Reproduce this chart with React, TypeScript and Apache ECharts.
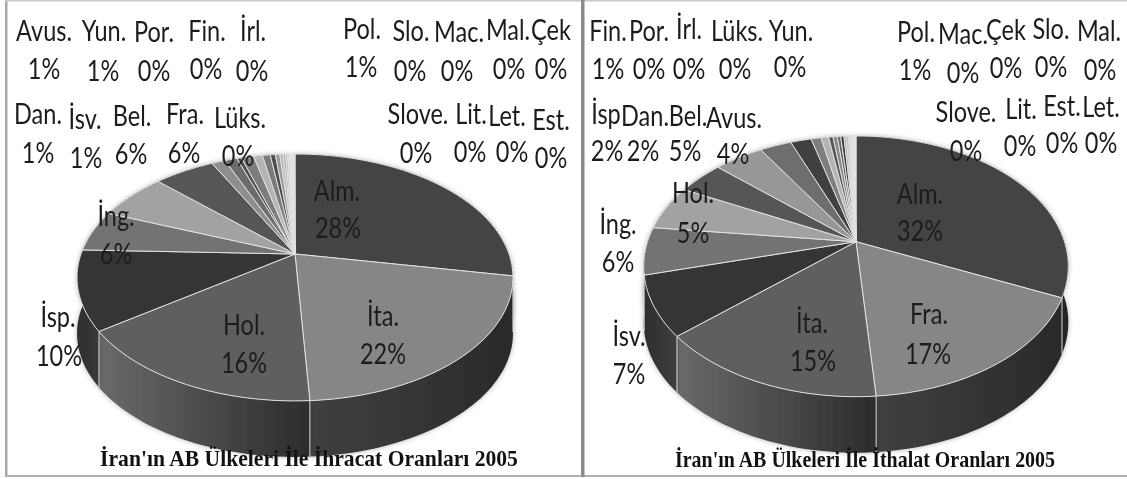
import React, { useEffect, useRef } from "react";
import * as echarts from "echarts";

// ---- data ----
const exportNames = ["Alm.", "İta.", "Hol.", "İsp.", "İng.", "Fra.", "Bel.", "İsv.", "Dan.", "Lüks.", "Avus.", "Yun.", "Pol.", "Por.", "Fin.", "İrl.", "Slo.", "Mac.", "Mal.", "Çek", "Slove.", "Lit.", "Let.", "Est."];
const exportValues = [27.9, 21.3, 16.1, 10.4, 5.4, 6.2, 5.4, 1.2, 1.1, 0.4, 1.1, 0.8, 0.7, 0.45, 0.4, 0.3, 0.2, 0.2, 0.15, 0.15, 0.1, 0.1, 0.1, 0.05];
const exportPercents = ["28%", "22%", "16%", "10%", "6%", "6%", "6%", "1%", "1%", "0%", "1%", "1%", "1%", "0%", "0%", "0%", "0%", "0%", "0%", "0%", "0%", "0%", "0%", "0%"];
const importNames = ["Alm.", "Fra.", "İta.", "İsv.", "İng.", "Hol.", "Bel.", "Avus.", "İsp", "Dan.", "Fin.", "Pol.", "Por.", "İrl.", "Lüks.", "Yun.", "Mac.", "Çek", "Slo.", "Mal.", "Slove.", "Lit.", "Est.", "Let."];
const importValues = [31.8, 17, 14.8, 7.4, 5.9, 5.6, 4.2, 4.5, 2.9, 1.9, 0.9, 0.7, 0.4, 0.4, 0.3, 0.3, 0.2, 0.2, 0.15, 0.15, 0.1, 0.1, 0.1, 0.1];
const importPercents = ["32%", "17%", "15%", "7%", "6%", "5%", "5%", "4%", "2%", "2%", "1%", "1%", "0%", "0%", "0%", "0%", "0%", "0%", "0%", "0%", "0%", "0%", "0%", "0%"];
const exportTitle = "İran'ın AB Ülkeleri İle İhracat Oranları 2005";
const importTitle = "İran'ın AB Ülkeleri İle İthalat Oranları 2005";

// ---- styles and layout ----
const exportColors = ["#444444", "#868686", "#5f5f5f", "#353535", "#737373", "#a2a2a2", "#565656", "#8e8e8e", "#6c6c6c", "#4a4a4a", "#7d7d7d", "#b4b4b4", "#7a7a7a", "#4d4d4d", "#999999", "#bbbbbb", "#aaaaaa", "#c4c4c4", "#d4d4d4", "#e2e2e2", "#e9e9e9", "#f0f0f0", "#eaeaea", "#f4f4f4"];
const importColors = ["#444444", "#868686", "#5f5f5f", "#353535", "#737373", "#a2a2a2", "#565656", "#979797", "#6e6e6e", "#404040", "#7e7e7e", "#b4b4b4", "#555555", "#8a8a8a", "#666666", "#3d3d3d", "#aaaaaa", "#bbbbbb", "#cccccc", "#dddddd", "#e5e5e5", "#eeeeee", "#e6e6e6", "#f2f2f2"];
const exportWalls = [["#2e2e2e", "#2e2e2e"], ["#2a2a2a", "#404040"], ["#6a6a6a", "#2c2c2c"], ["#2e2e2e", "#3a3a3a"]];
const importWalls = [["#262626", "#262626"], ["#2a2a2a", "#404040"], ["#6a6a6a", "#2c2c2c"], ["#2e2e2e", "#3e3e3e"]];
const exportGeom = { cx: 295, cy: 254, A: 119, B: 214, k: 0.19, h: 56 };
const importGeom = { cx: 856, cy: 241.7, A: 125.7, B: 208.5, k: 0.189, h: 56 };
// [nameX, nameY, percentX, percentY]
const exportLabelPos: Record<string, number[]> = {
  "Avus.": [44, 30, 44, 68], "Yun.": [104, 30, 103, 70], "Por.": [154, 31, 154, 70], "Fin.": [207, 30, 206, 68], "İrl.": [253, 30, 252, 70],
  "Pol.": [362, 28, 361, 66], "Slo.": [411, 30, 410, 70], "Mac.": [459, 31, 457, 70], "Mal.": [508, 29, 509, 68], "Çek": [551, 29, 551, 68],
  "Dan.": [38, 113, 38, 152], "İsv.": [85, 118, 86, 157], "Bel.": [132, 115, 131, 153], "Fra.": [185, 113, 184, 152], "Lüks.": [240, 117, 238, 155],
  "Slove.": [418, 113, 416, 152], "Lit.": [471, 113, 470, 151], "Let.": [507, 115, 512, 151], "Est.": [551, 119, 551, 157],
  "Alm.": [337, 190, 338, 227], "İng.": [116, 215, 116, 253], "İsp.": [58, 316, 59, 355], "Hol.": [244, 324, 244, 362], "İta.": [383, 315, 383, 353],
};
const importLabelPos: Record<string, number[]> = {
  "Fin.": [608, 30, 608, 68], "Por.": [649, 30, 649, 68], "İrl.": [689, 28, 689, 68], "Lüks.": [737, 30, 735, 68], "Yun.": [791, 30, 790, 66],
  "Pol.": [916, 31, 915, 69], "Mac.": [963, 33, 963, 72], "Çek": [1006, 29, 1006, 67], "Slo.": [1051, 28, 1051, 66], "Mal.": [1099, 30, 1100, 69],
  "İsp": [606, 113, 607, 150], "Dan.": [645, 115, 643, 150], "Bel.": [688, 115, 685, 150], "Avus.": [734, 117, 733, 153],
  "Slove.": [966, 111, 966, 150], "Lit.": [1021, 108, 1020, 145], "Est.": [1062, 105, 1062, 142], "Let.": [1101, 106, 1101, 142],
  "Alm.": [920, 193, 920, 230], "Hol.": [693, 192, 693, 232], "İng.": [618, 223, 618, 261], "İsv.": [629, 335, 629, 373], "İta.": [812, 322, 813, 360], "Fra.": [929, 313, 928, 353],
};
const LABEL_FONT = 'Lato, "Noto Sans", sans-serif';

type Geom = typeof exportGeom;
function project(g: Geom, frac: number, drop = 0): number[] {
  const t = 2 * Math.PI * frac;
  const u = Math.sin(t);
  const v = -Math.cos(t);
  const f = 1 - g.k * v;
  return [g.cx + (g.B * u) / f, g.cy + (g.A * v) / f + drop];
}
function arcPoints(g: Geom, a: number, b: number, drop = 0): number[][] {
  const n = Math.max(2, Math.ceil((b - a) * 200));
  const pts: number[][] = [];
  for (let i = 0; i <= n; i++) pts.push(project(g, a + ((b - a) * i) / n, drop));
  return pts;
}
function spans(values: number[]): number[][] {
  const total = values.reduce((s, x) => s + x, 0);
  let acc = 0;
  return values.map((x, i) => {
    const s = acc / total;
    acc += x;
    return [s, acc / total, i];
  });
}

function pieSeries(values: number[], colors: string[], walls: string[][], g: Geom) {
  const data = spans(values);
  return [
    {
      type: "custom",
      coordinateSystem: "none",
      silent: true,
      z: 2,
      data,
      renderItem: (_p: any, api: any) => {
        const a = api.value(0), b = api.value(1), i = api.value(2);
        const w = walls[i] || ["#333333", "#333333"];
        const top = arcPoints(g, a, b);
        const bottom = arcPoints(g, a, b, g.h).reverse();
        const s0 = project(g, a);
        const children: any[] = [
          {
            type: "polygon",
            shape: { points: top.concat(bottom) },
            style: {
              fill: new echarts.graphic.LinearGradient(0, 0, 1, 0, [
                { offset: 0, color: b < 0.5 ? w[1] : w[0] },
                { offset: 1, color: b < 0.5 ? w[0] : w[1] },
              ]),
              shadowBlur: 5,
              shadowColor: "rgba(0,0,0,0.3)",
            },
          },
        ];
        if (-Math.cos(2 * Math.PI * a) > -0.05 && i > 0) {
          children.push({
            type: "line",
            shape: { x1: s0[0], y1: s0[1], x2: s0[0], y2: s0[1] + g.h },
            style: { stroke: "#d8d8d8", lineWidth: 1 },
          });
        }
        return { type: "group", children };
      },
    },
    {
      type: "custom",
      coordinateSystem: "none",
      silent: true,
      z: 3,
      data,
      renderItem: (_p: any, api: any) => {
        const a = api.value(0), b = api.value(1), i = api.value(2);
        return {
          type: "polygon",
          shape: { points: [[g.cx, g.cy]].concat(arcPoints(g, a, b)) },
          style: { fill: colors[i], stroke: "#e2e2e2", lineWidth: 1 },
        };
      },
    },
  ];
}

function labelTexts(names: string[], percents: string[], pos: Record<string, number[]>) {
  const out: any[] = [];
  const txt = (text: string, x: number, y: number) => ({
    type: "text",
    z: 100,
    silent: true,
    x,
    y,
    scaleX: 0.94,
    scaleY: 1.12,
    style: { text, fill: "#1c1c1c", font: `25px ${LABEL_FONT}`, align: "center", verticalAlign: "middle" },
  });
  names.forEach((n, i) => {
    const p = pos[n];
    out.push(txt(n, p[0], p[1]), txt(percents[i], p[2], p[3]));
  });
  return out;
}

function frameRect(x: number, y: number, width: number, height: number, fill: string) {
  return { type: "rect", z: 90, silent: true, shape: { x, y, width, height }, style: { fill } };
}

export default function App() {
  const ref = useRef<HTMLDivElement>(null);
  useEffect(() => {
    const chart = echarts.init(ref.current!, null, { renderer: "svg" });
    const titleText = (text: string, x: number, y: number, scaleX: number) => ({
      type: "text",
      z: 100,
      silent: true,
      x,
      y,
      scaleX,
      scaleY: 1.1,
      style: { text, fill: "#111111", font: 'bold 21px "Liberation Serif", serif', align: "center", verticalAlign: "middle" },
    });
    chart.setOption({
      animation: false,
      backgroundColor: "#ffffff",
      series: [
        ...pieSeries(exportValues, exportColors, exportWalls, exportGeom),
        ...pieSeries(importValues, importColors, importWalls, importGeom),
      ],
      graphic: {
        elements: [
          frameRect(5, 0, 2.5, 477, "#a8a8a8"),
          frameRect(5, 0, 1122, 1.5, "#c8c8c8"),
          frameRect(5, 475, 1122, 2, "#b0b0b0"),
          frameRect(581, 0, 3.5, 477, "#8a8a8a"),
          ...labelTexts(exportNames, exportPercents, exportLabelPos),
          ...labelTexts(importNames, importPercents, importLabelPos),
          titleText(exportTitle, 309, 458, 1.03),
          titleText(importTitle, 865, 460, 0.95),
        ],
      },
    });
    return () => chart.dispose();
  }, []);
  return (
    <div
      ref={ref}
      style={{ position: "fixed", left: 0, top: 0, width: 1127, height: 479, background: "#fff", filter: "blur(0.7px)" }}
    />
  );
}
